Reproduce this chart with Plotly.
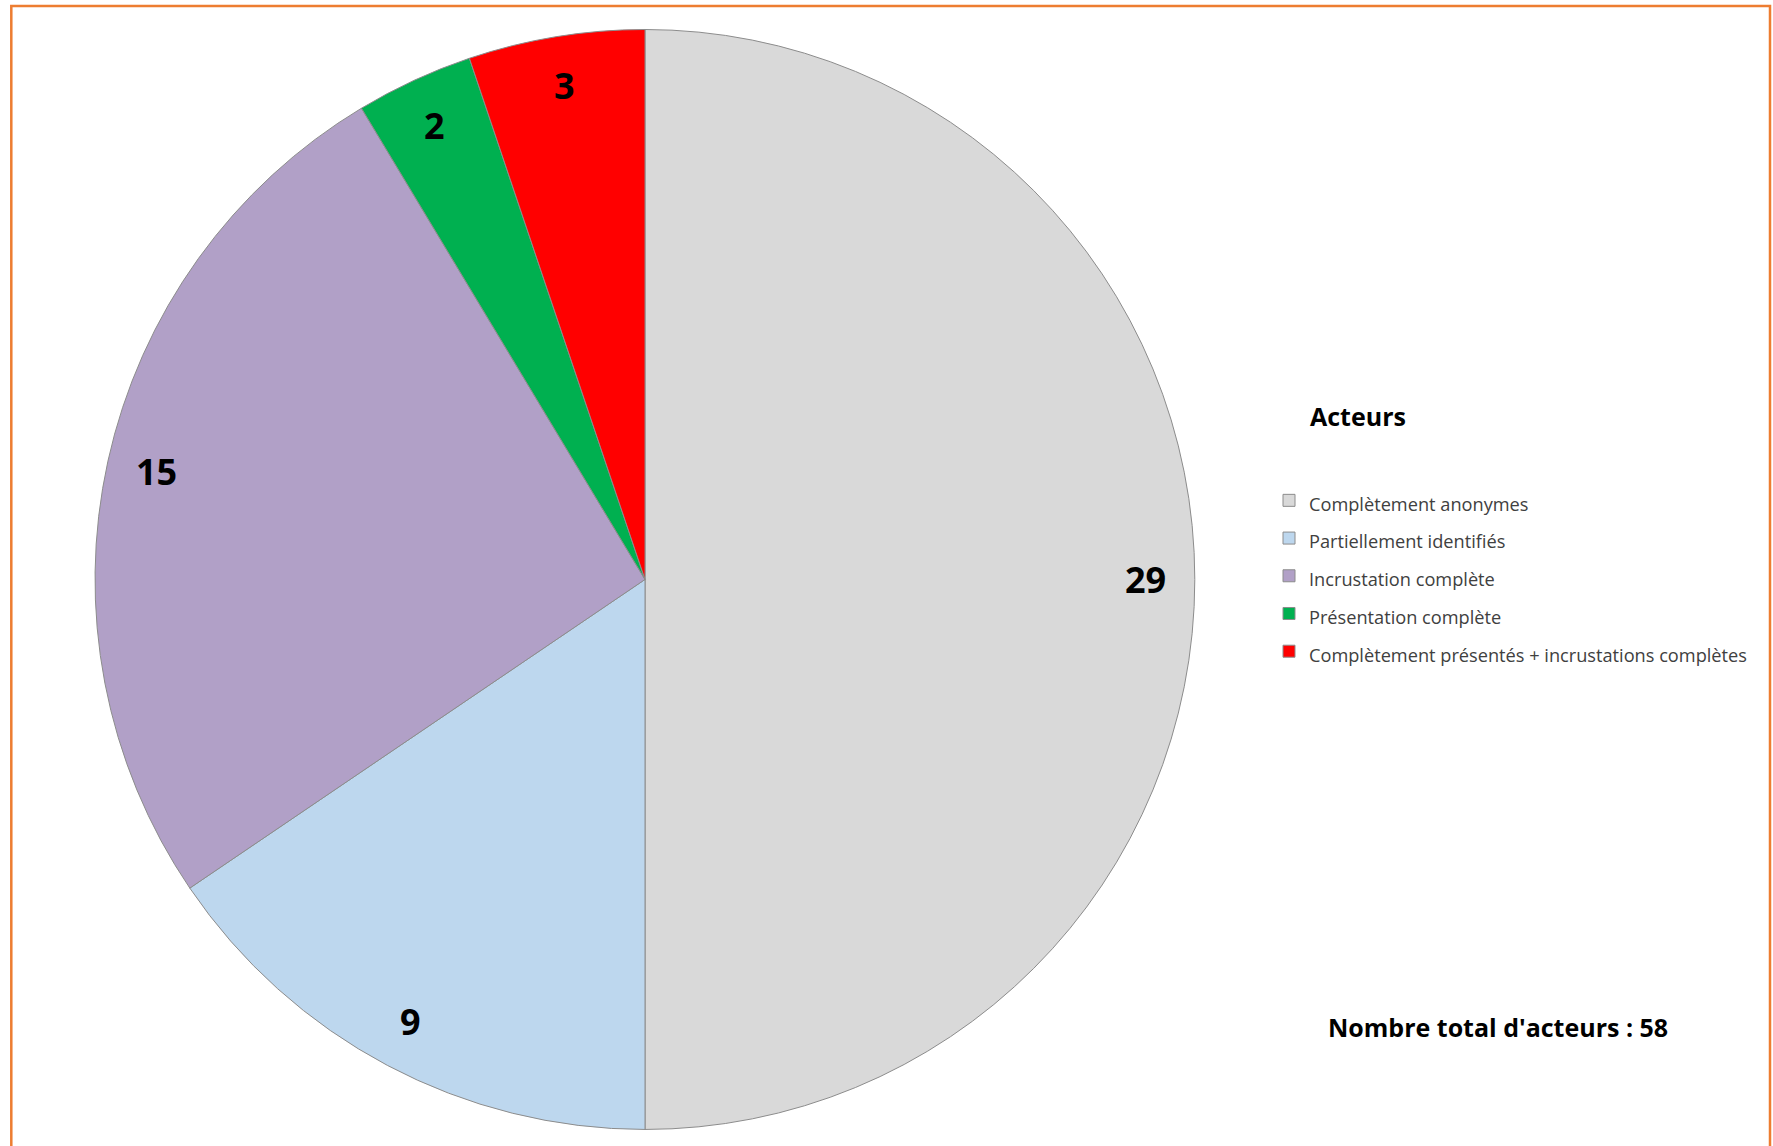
import math
import plotly.graph_objects as go

# ---- data ----
labels = [
    "Complètement anonymes",
    "Partiellement identifiés",
    "Incrustation complète",
    "Présentation complète",
    "Complètement présentés + incrustations complètes",
]
values = [29, 9, 15, 2, 3]
colors = ["#D9D9D9", "#BDD7EE", "#B1A0C7", "#00B050", "#FF0000"]
legend_title = "Acteurs"
total_label = "Nombre total d'acteurs : "

# ---- layout constants ----
W, H = 1773, 1146
FONT = "Open Sans"
pie_x = [0.0536, 0.6740]
pie_y = [0.0144, 0.9743]
label_frac = 0.91

total = sum(values)

fig = go.Figure()
fig.add_trace(go.Pie(
    labels=[f"<span style='font-size:18.2px'>{l}</span>" for l in labels],
    values=values,
    sort=False,
    direction="clockwise",
    rotation=0,
    textinfo="none",
    hoverinfo="label+value",
    marker=dict(colors=colors, line=dict(color="#8C8C8C", width=1)),
    domain=dict(x=pie_x, y=pie_y),
))

# data labels placed on each slice bisector, derived from the values
cx = (pie_x[0] + pie_x[1]) / 2 * W
cy = (1 - (pie_y[0] + pie_y[1]) / 2) * H
r = min((pie_x[1] - pie_x[0]) * W, (pie_y[1] - pie_y[0]) * H) / 2
annotations = []
cum = 0
for v in values:
    theta = 2 * math.pi * (cum + v / 2) / total
    cum += v
    px = cx + label_frac * r * math.sin(theta)
    py = cy - label_frac * r * math.cos(theta)
    annotations.append(dict(
        x=px / W, y=1 - py / H, xref="paper", yref="paper",
        text=str(v), showarrow=False, xanchor="center", yanchor="middle",
        font=dict(family=FONT, size=36, color="#000000", weight="bold"),
    ))

annotations.append(dict(
    x=1308 / W, y=1 - 416 / H, xref="paper", yref="paper",
    text=legend_title, showarrow=False, xanchor="left", yanchor="middle",
    font=dict(family=FONT, size=25, color="#000000", weight="bold"),
))
annotations.append(dict(
    x=1498 / W, y=1 - 1027 / H, xref="paper", yref="paper",
    text=f"{total_label}{total}", showarrow=False, xanchor="center", yanchor="middle",
    font=dict(family=FONT, size=25, color="#000000", weight="bold"),
))

fig.update_layout(
    width=W, height=H,
    margin=dict(l=0, r=0, t=0, b=0),
    paper_bgcolor="white",
    plot_bgcolor="white",
    showlegend=True,
    legend=dict(
        x=1269 / W, y=1 - 476.5 / H, xanchor="left", yanchor="top",
        font=dict(family=FONT, size=26.7, color="#404040"),
        bgcolor="rgba(0,0,0,0)", borderwidth=0,
    ),
    annotations=annotations,
    shapes=[dict(
        type="rect", xref="paper", yref="paper",
        x0=11.3 / W, x1=1770 / W, y0=-0.05, y1=1 - 6 / H,
        line=dict(color="#ED7D31", width=2.5),
        fillcolor="rgba(0,0,0,0)",
    )],
)

fig.write_html(
    "out.html",
    config={"displayModeBar": False},
    post_script="document.body.style.margin='0';document.body.style.overflow='hidden';document.documentElement.style.overflow='hidden';",
)
